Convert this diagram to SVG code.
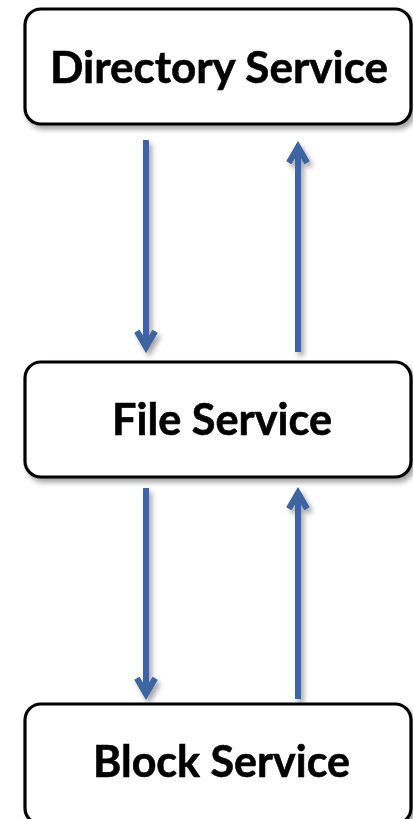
<svg xmlns="http://www.w3.org/2000/svg" width="413" height="819" viewBox="0 0 413 819">
  <defs>
    <style>
      .box { fill: #ffffff; stroke: #000000; stroke-width: 3.2; }
      .label { font-family: Lato, "Open Sans", "Liberation Sans", sans-serif; font-weight: 700; font-size: 44px; fill: #000000; stroke: #000000; stroke-width: 0.6; }
      .flow { stroke: #3D65A2; stroke-width: 6; fill: none; marker-end: url(#head); }
    </style>
    <!-- soft grey drop shadow shared by boxes and arrows -->
    <filter id="shadow" x="-10%" y="-10%" width="130%" height="130%">
      <feDropShadow dx="3" dy="4" stdDeviation="2.5" flood-color="#000000" flood-opacity="0.35"/>
    </filter>
    <!-- chevron arrowhead, tip at (22,12) -->
    <marker id="head" markerUnits="userSpaceOnUse" markerWidth="24" markerHeight="24" refX="14" refY="12" orient="auto">
      <path d="M22,12 L2.95,1 L0.45,5.33 L12,12 L0.45,18.67 L2.95,23 Z" fill="#3D65A2" stroke="#3D65A2" stroke-width="1.2" stroke-linejoin="round"/>
    </marker>
  </defs>

  <rect width="413" height="819" fill="#ffffff"/>

  <g id="connectors" filter="url(#shadow)">
    <line class="flow" x1="146" y1="140" x2="146" y2="344"/>
    <line class="flow" x1="298" y1="352" x2="298" y2="150"/>
    <line class="flow" x1="146" y1="488" x2="146" y2="691"/>
    <line class="flow" x1="298" y1="699" x2="298" y2="496"/>
  </g>

  <g id="directory-service" filter="url(#shadow)">
    <rect class="box" x="25" y="9" width="386" height="115" rx="16"/>
    <text class="label" x="50" y="83" textLength="338" lengthAdjust="spacingAndGlyphs">Directory Service</text>
  </g>

  <g id="file-service" filter="url(#shadow)">
    <rect class="box" x="25" y="362" width="386" height="115" rx="16"/>
    <text class="label" x="112" y="435" textLength="220" lengthAdjust="spacingAndGlyphs">File Service</text>
  </g>

  <g id="block-service" filter="url(#shadow)">
    <rect class="box" x="25" y="704" width="386" height="120" rx="16"/>
    <text class="label" x="93" y="777" textLength="257" lengthAdjust="spacingAndGlyphs">Block Service</text>
  </g>
</svg>
